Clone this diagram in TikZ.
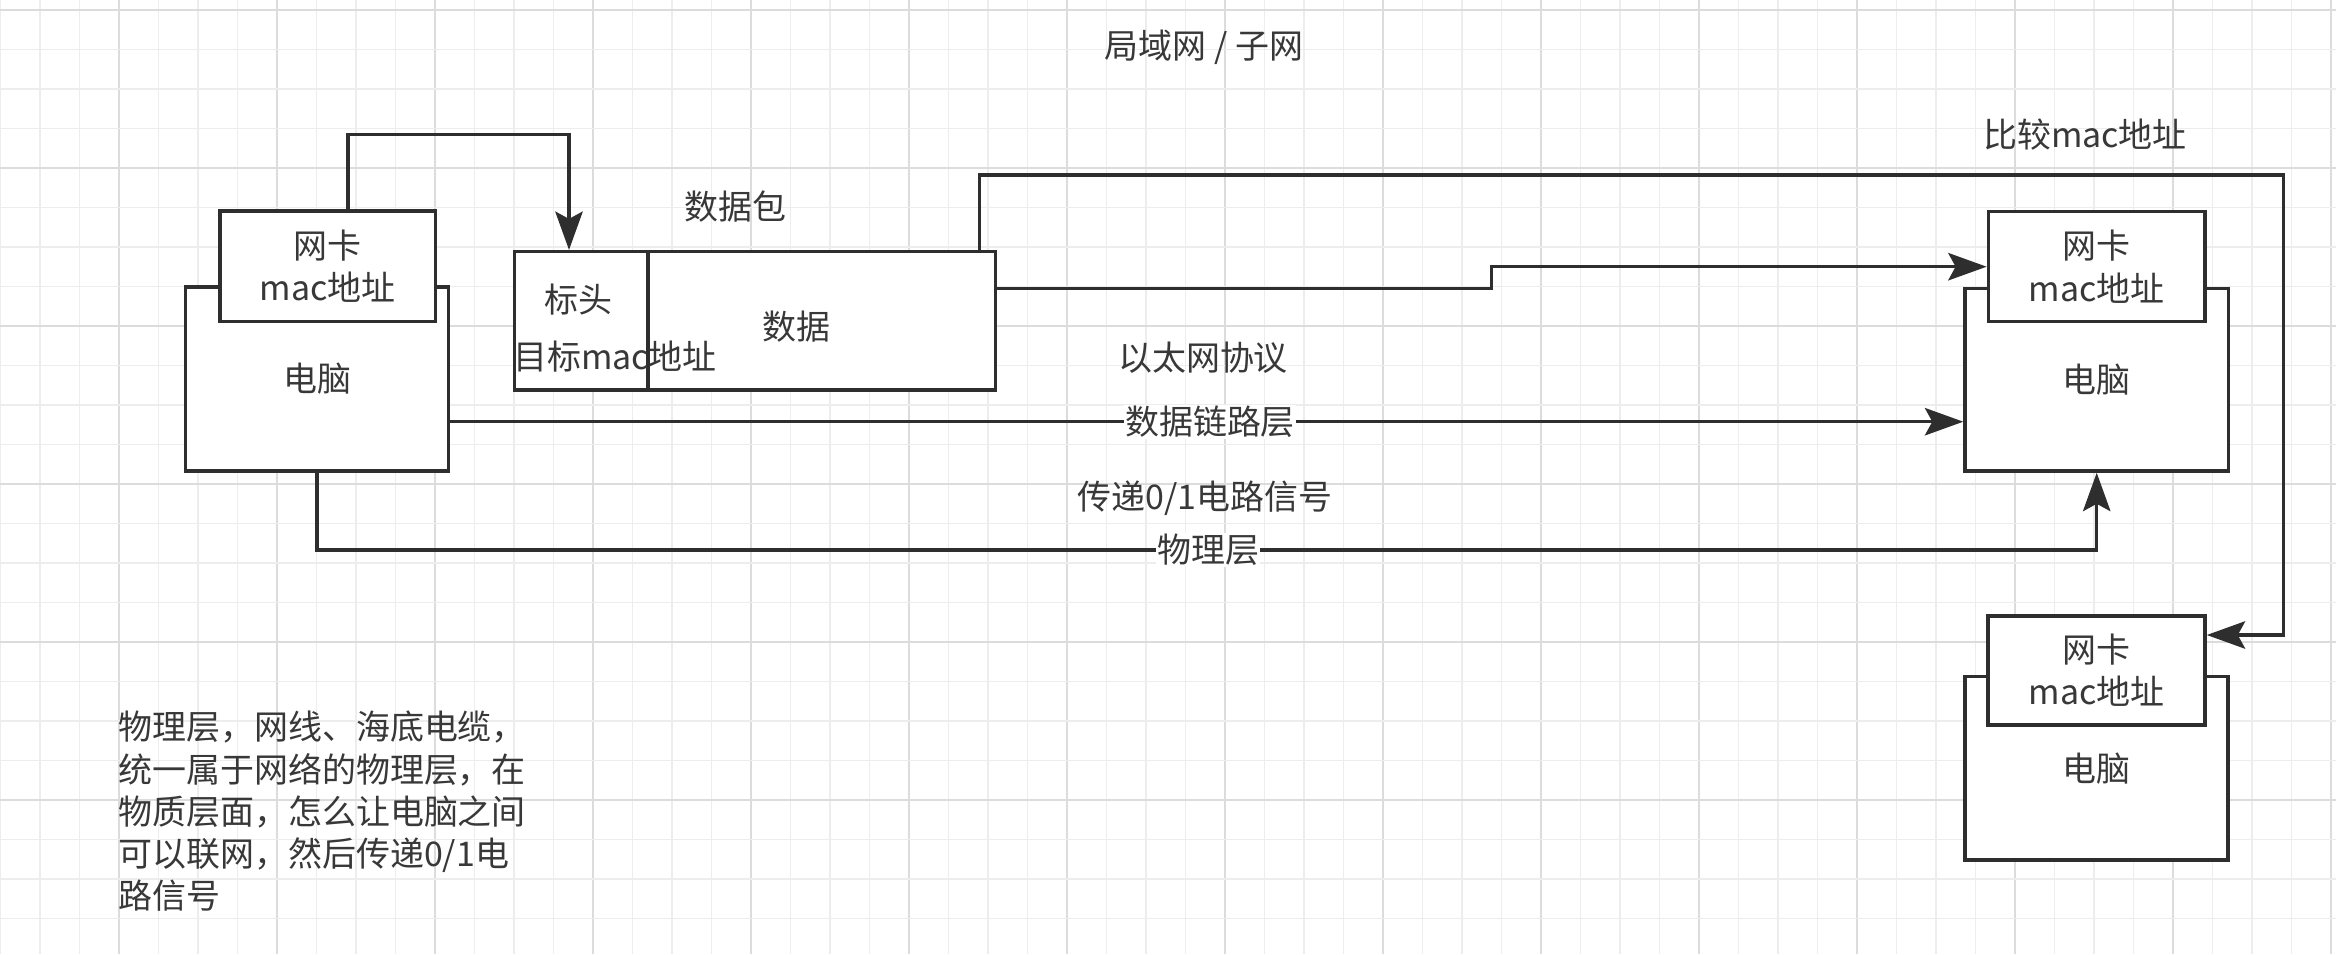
\documentclass[tikz,border=0pt]{standalone}
\usepackage{fontspec}
\setmainfont{Noto Sans CJK SC}
\usetikzlibrary{arrows.meta,calc}
\definecolor{ink}{HTML}{2E2E2E}
\definecolor{txt}{HTML}{383838}
\definecolor{gmin}{HTML}{EDEDED}
\definecolor{gmaj}{HTML}{DCDCDC}
\newcommand\lblfont{\fontsize{29pt}{36pt}\selectfont}
\tikzset{
  box/.style={draw=ink, line width=3pt, fill=white, inner sep=0pt, text=txt, font=\lblfont, align=center},
  lbl/.style={inner sep=1pt, text=txt, font=\lblfont},
  conn/.style={draw=ink, line width=3pt},
  arr/.style={conn, -{Stealth[length=1.15cm, width=0.82cm, inset=0.22cm]}},
  gridmin/.style={draw=gmin, line width=1pt},
  gridmaj/.style={draw=gmaj, line width=1.2pt}
}
\begin{document}
\begin{tikzpicture}[x=0.03cm, y=-0.03cm]
\fill[white] (0,0) rectangle (2336,954);
\useasboundingbox (0,0) rectangle (2336,954);
% grid
\foreach \n in {0,...,59}{
  \pgfmathtruncatemacro\m{mod(\n,4)}
  \pgfmathsetmacro\xx{0.5+39.5*\n}
  \ifnum\m=3 \draw[gridmaj] (\xx,0) -- (\xx,954); \else \draw[gridmin] (\xx,0) -- (\xx,954); \fi
}
\foreach \n in {0,...,23}{
  \pgfmathtruncatemacro\m{mod(\n,4)}
  \pgfmathsetmacro\yy{10+39.5*\n}
  \ifnum\m=0 \draw[gridmaj] (0,\yy) -- (2336,\yy); \else \draw[gridmin] (0,\yy) -- (2336,\yy); \fi
}

% computers and NICs
\node[box, minimum width=7.89cm, minimum height=5.52cm] (lpc) at (317,379) {电脑};
\node[box, minimum width=6.46cm, minimum height=3.32cm] (lnic) at (327.7,266.4) {网卡\\mac地址};
\node[box, minimum width=7.9cm, minimum height=5.48cm] (rpc) at (2096.7,379.7) {电脑};
\node[box, minimum width=6.5cm, minimum height=3.3cm] (rnic) at (2096.7,266.7) {网卡\\mac地址};
\node[box, minimum width=7.89cm, minimum height=5.5cm] (bpc) at (2096.5,768.3) {电脑};
\node[box, minimum width=6.51cm, minimum height=3.27cm] (bnic) at (2096.5,670.5) {网卡\\mac地址};

% packet
\node[box, minimum width=4.0cm, minimum height=4.15cm] (hdr) at (581.1,320.85) {};
\node[box, minimum width=10.43cm, minimum height=4.15cm] (dat) at (821.6,320.85) {};
\node[lbl] (hdrt) at (578,300) {标头};
\node[lbl] (dst) at (615,357) {目标mac地址};
\node[lbl] (datt) at (796,327) {数据};
\node[lbl] (pktl) at (735.5,207) {数据包};

% helper coordinates
\coordinate (e1a) at (348,134.3);
\coordinate (e1b) at (569,134.3);
\coordinate (e2a) at (979.4,175);
\coordinate (e2b) at (2283.3,175);
\coordinate (e2c) at (2283.3,635);
\coordinate (e3a) at (1491.7,288.5);
\coordinate (e3b) at (1491.7,266.7);
\coordinate (dl) at (1000,421.7);
\coordinate (py) at (1000,550);

% connectors
\draw[arr] (lnic.north -| e1a) -- (e1a) -- (e1b) -- (hdr.north -| e1b);
\draw[arr] (dat.north -| e2a) -- (e2a) -- (e2b) -- (e2c) -- (bnic.east |- e2c);
\draw[arr] (dat.east |- e3a) -- (e3a) -- (e3b) -- (rnic.west |- e3b);
\draw[arr] (lpc.east |- dl) -- (rpc.west |- dl);
\draw[arr] (lpc.south) -- (lpc.south |- py) -- (rpc.south |- py) -- (rpc.south);

% labels
\node[lbl] (title) at (1204,47) {局域网 / 子网};
\node[lbl] (cmp) at (2085,135) {比较mac地址};
\node[lbl] (eth) at (1203,358) {以太网协议};
\node[lbl, fill=white] (dll) at (1210,421.7) {数据链路层};
\node[lbl] (sig) at (1205,498) {传递0/1电路信号};
\node[lbl, fill=white] (phy) at (1208,550) {物理层};

\node[lbl, anchor=north west, inner sep=0pt, align=left] (note) at (118,711)
  {物理层，网线、海底电缆，\\统一属于网络的物理层，在\\物质层面，怎么让电脑之间\\可以联网，然后传递0/1电\\路信号};
\end{tikzpicture}
\end{document}
